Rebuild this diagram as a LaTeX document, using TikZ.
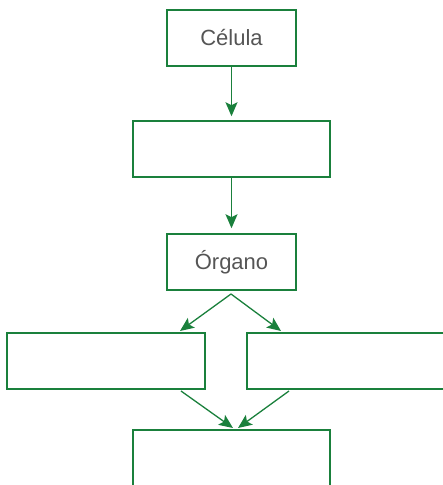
\documentclass[tikz,border=0pt]{standalone}
\usepackage{fontspec}
\setmainfont{Liberation Sans}
\usepackage{tikz}
\usetikzlibrary{arrows.meta,positioning,calc}
\definecolor{leaf}{RGB}{26,128,60}
\definecolor{ink}{RGB}{85,85,85}
\tikzstyle{box}=[draw=leaf,line width=1.5pt,rectangle,minimum height=56pt,inner sep=0pt,text=ink,font=\fontsize{22}{26}\selectfont]
\tikzstyle{link}=[draw=leaf,line width=1.3pt,-{Stealth[length=14pt,width=12pt,inset=3pt]}]

\begin{document}
\begin{tikzpicture}[x=1pt,y=-1pt]
\useasboundingbox (0,0) rectangle (443,485);
\clip (0,0) rectangle (443,485);
\node [box, minimum width=129pt] (celula) at (231.5,38) {Célula};
\node [box, minimum width=197pt] (tecido) at (231.5,149) {};
\node [box, minimum width=129pt] (organo) at (231.5,262) {Órgano};
\node [box, minimum width=198pt] (left) at (106,361) {};
\node [box, minimum width=200pt] (right) at (347,361) {};
\node [box, minimum width=197pt, minimum height=60pt] (bottom) at (231.5,460) {};
\coordinate (split) at (231,294);
\coordinate (lin) at (180,331);
\coordinate (rin) at (281,331);
\coordinate (lout) at (181,391);
\coordinate (rout) at (289,391);
\coordinate (join) at (235.5,428);
\draw [link] (celula) -- ($(tecido.north)+(0,-4)$);
\draw [link] (tecido) -- ($(organo.north)+(0,-5)$);
\draw [link] (split) -- (lin);
\draw [link] (split) -- (rin);
\draw [link] (lout) -- ($(join)+(-2.5,0)$);
\draw [link] (rout) -- ($(join)+(2.5,0)$);
\end{tikzpicture}
\end{document}
